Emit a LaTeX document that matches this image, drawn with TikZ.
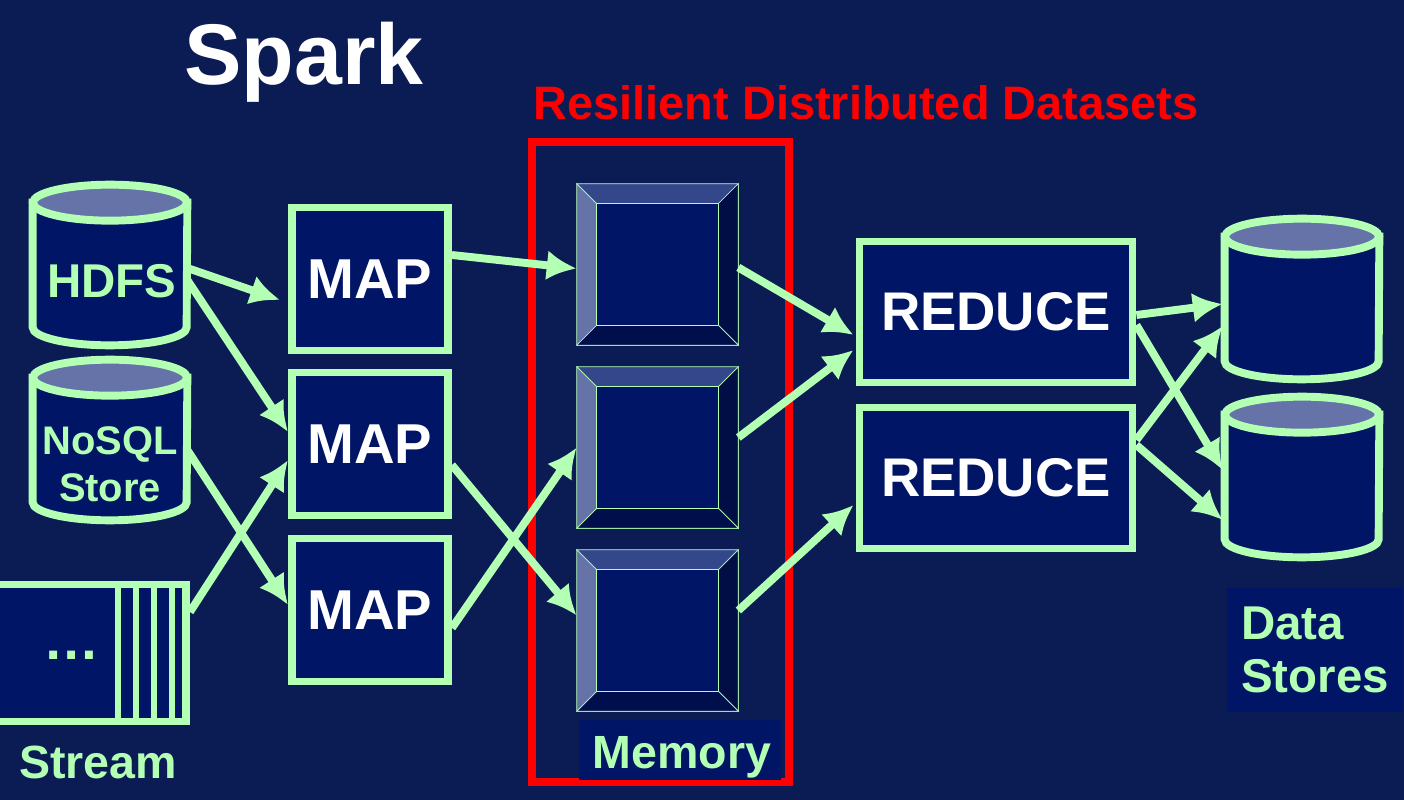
\documentclass[tikz,border=0pt]{standalone}
\usepackage{fontspec}
\setmainfont{Liberation Sans}
\usetikzlibrary{arrows.meta,calc}
\definecolor{bgnavy}{HTML}{0B1C55}
\definecolor{boxnavy}{HTML}{001566}
\definecolor{mint}{HTML}{B3FFB3}
\definecolor{lidblue}{HTML}{6673A8}
\definecolor{topblue}{HTML}{33478A}
\definecolor{darkblue}{HTML}{000E45}
\tikzset{
  task/.style={draw=mint,line width=4.5pt,fill=boxnavy,text=white,font=\fontsize{32}{36}\selectfont\bfseries,minimum height=2.86cm,inner sep=0pt},
  store/.style={minimum width=3.08cm,minimum height=3.2cm,inner sep=0pt},
  storeline/.style={draw=mint,line width=4.5pt},
  flow/.style={draw=mint,line width=4.5pt,-{Latex[length=17pt,width=17pt]}},
  tag/.style={fill=boxnavy,text=mint,font=\fontsize{27}{30}\selectfont\bfseries,align=left}
}
% cylinder drawn round a named node
\newcommand{\datastore}[3]{%
  \node[store] (#1) at (#2,#3) {};
  \filldraw[storeline,fill=boxnavy] ($(#1.north west)+(0,18)$) -- ($(#1.south west)+(0,-18)$)
    arc[start angle=180,end angle=360,x radius=1.54cm,y radius=0.36cm]
    -- ($(#1.north east)+(0,18)$) -- cycle;
  \filldraw[storeline,fill=lidblue] ($(#1.north)+(0,18)$) ellipse[x radius=1.54cm,y radius=0.36cm];
}
\begin{document}
\begin{tikzpicture}[x=0.02cm,y=-0.02cm]
  \fill[bgnavy] (0,0) rectangle (1404,800);
  \useasboundingbox (0,0) rectangle (1404,800);

  \node[text=white,font=\fontsize{49}{52}\selectfont\bfseries] (title) at (304,62) {Spark};
  \node[text=red,font=\fontsize{26.7}{28}\selectfont\bfseries] (rddlabel) at (866,103) {Resilient Distributed Datasets};

  % sources
  \datastore{hdfs}{110}{265}
  \node[text=mint,font=\fontsize{27}{30}\selectfont\bfseries] (hdfstext) at (112,281) {HDFS};
  \datastore{nosql}{110}{440}
  \node[text=mint,font=\fontsize{22.7}{27}\selectfont\bfseries,align=center] (nosqltext) at (110,464) {NoSQL\\Store};
  \node[draw=mint,line width=4.5pt,fill=boxnavy,minimum width=4.4cm,minimum height=2.74cm,inner sep=0pt] (stream) at (76,653) {};
  \foreach \x in {118,136,154,172}
    \draw[mint,line width=3pt] (\x,587) -- (\x,719);
  \node[text=mint,font=\fontsize{32}{34}\selectfont\bfseries] (dots) at (72,655) {\dots};
  \node[text=mint,font=\fontsize{26.5}{28}\selectfont\bfseries] (streamlabel) at (98,762) {Stream};

  % map tasks
  \node[task,minimum width=3.12cm] (map1) at (370,279) {MAP};
  \node[task,minimum width=3.12cm] (map2) at (370,444) {MAP};
  \node[task,minimum width=3.12cm] (map3) at (370,610) {MAP};

  % in-memory datasets
  \draw[red,line width=4.5pt] (532,142) rectangle (789,782);
  \node[tag,minimum width=4.04cm,minimum height=1.2cm] (memlabel) at (680,750) {};
  \node[text=mint,font=\fontsize{26.5}{28}\selectfont\bfseries] at (682,757) {Memory};
  \foreach \i/\y in {1/264.5,2/447.5,3/630.5} {
    \node[draw=mint,fill=boxnavy,minimum size=3.22cm,inner sep=0pt,thin] (mem\i) at (657.5,\y) {};
    \coordinate (a) at ($(mem\i.north west)+(20,20)$);
    \coordinate (b) at ($(mem\i.north east)+(-20,20)$);
    \coordinate (c) at ($(mem\i.south east)+(-20,-20)$);
    \coordinate (d) at ($(mem\i.south west)+(20,-20)$);
    \filldraw[draw=mint,fill=lidblue,thin] (mem\i.north west) -- (a) -- (d) -- (mem\i.south west) -- cycle;
    \filldraw[draw=mint,fill=topblue,thin] (mem\i.north west) -- (a) -- (b) -- (mem\i.north east) -- cycle;
    \filldraw[draw=mint,fill=darkblue,thin] (mem\i.north east) -- (b) -- (c) -- (mem\i.south east) -- cycle;
    \filldraw[draw=mint,fill=darkblue!80!boxnavy,thin] (mem\i.south west) -- (d) -- (c) -- (mem\i.south east) -- cycle;
    \filldraw[draw=mint,fill=boxnavy,thin] (a) rectangle (c);
  }

  % reduce tasks
  \node[task,minimum width=5.46cm,minimum height=2.82cm,font=\fontsize{31}{34}\selectfont\bfseries] (red1) at (996,312) {REDUCE};
  \node[task,minimum width=5.46cm,minimum height=2.82cm,font=\fontsize{31}{34}\selectfont\bfseries] (red2) at (996,478) {REDUCE};

  % sinks
  \datastore{out1}{1302}{299}
  \datastore{out2}{1302}{477}
  \node[tag,minimum width=3.54cm,minimum height=2.48cm] (datalabel) at (1315,650) {Data\\Stores};

  % connectors
  \draw[flow] ($(hdfs.east)+(0,3)$) -- ($(map1.west)+(-8,21)$);
  \draw[flow] ($(hdfs.east)+(0,15)$) -- ($(map2.west)+(0,-12)$);
  \draw[flow] ($(nosql.east)+(0,10)$) -- ($(map3.west)+(0,-5)$);
  \draw[flow] ($(stream.east)+(0,-41)$) -- ($(map2.west)+(0,16)$);
  \draw[flow] ($(map1.east)+(0,-24)$) -- ($(mem1.west)+(0,4)$);
  \draw[flow] ($(map2.east)+(0,21)$) -- ($(mem3.west)+(0,-15)$);
  \draw[flow] ($(map3.east)+(0,18)$) -- ($(mem2.west)+(0,0)$);
  \draw[flow] ($(mem1.east)+(0,3)$) -- ($(red1.west)+(-2,23)$);
  \draw[flow] ($(mem2.east)+(0,-10)$) -- ($(red1.west)+(-2,38)$);
  \draw[flow] ($(mem3.east)+(0,-20)$) -- ($(red2.west)+(-2,27)$);
  \draw[flow] ($(red1.east)+(0,3)$) -- ($(out1.west)+(-2,5)$);
  \draw[flow] ($(red1.east)+(0,13)$) -- ($(out2.west)+(-2,-7)$);
  \draw[flow] ($(red2.east)+(0,-38)$) -- ($(out1.west)+(-2,27)$);
  \draw[flow] ($(red2.east)+(0,-33)$) -- ($(out2.west)+(-2,43)$);
\end{tikzpicture}
\end{document}
